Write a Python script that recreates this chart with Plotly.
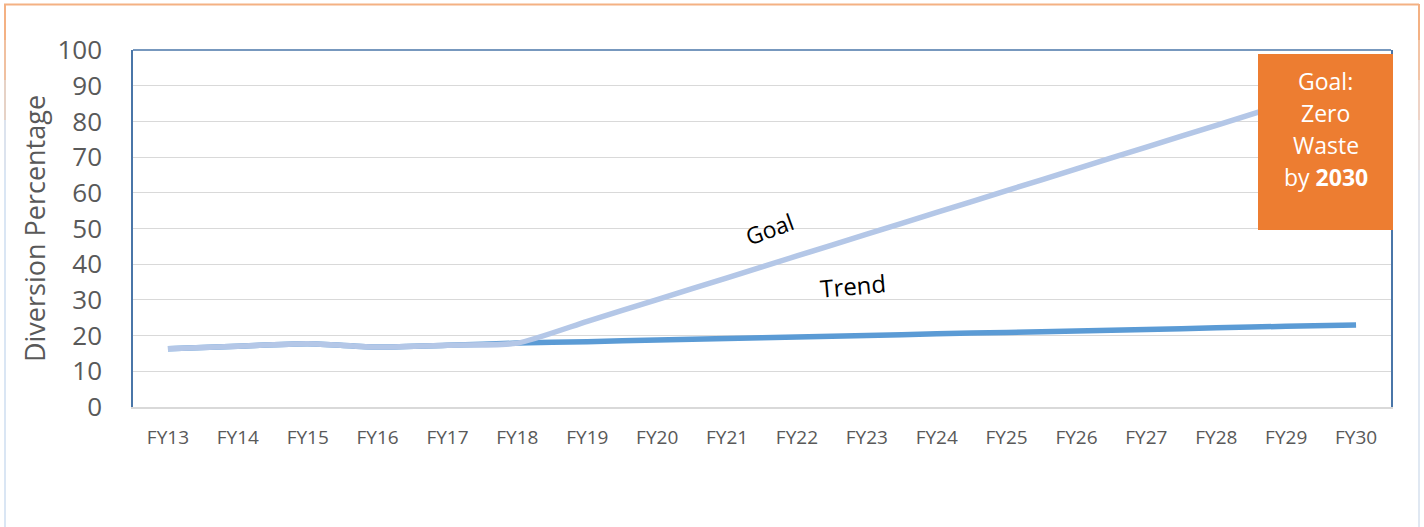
import plotly.graph_objects as go

categories = ["FY13", "FY14", "FY15", "FY16", "FY17", "FY18", "FY19", "FY20", "FY21",
              "FY22", "FY23", "FY24", "FY25", "FY26", "FY27", "FY28", "FY29", "FY30"]
trend = [16.3, 17.0, 17.7, 16.8, 17.3, 17.9, 18.3, 18.8, 19.2, 19.6, 20.0, 20.5,
         20.9, 21.3, 21.7, 22.2, 22.6, 23.0]
goal = [16.3, 17.0, 17.7, 16.8, 17.3, 17.9, 24.0, 30.1, 36.2, 42.3, 48.4, 54.5,
        60.6, 66.7, 72.8, 78.9, 85.0, 91.1]
y_ticks = [0, 10, 20, 30, 40, 50, 60, 70, 80, 90, 100]
box_lines = ["Goal:", "Zero", "Waste", "by <b>2030</b>"]

FONT = "Open Sans, Calibri, sans-serif"
W, H = 1424, 527
L, R, T, B = 133, 33, 50, 120
PW, PH = W - L - R, H - T - B


def px(x):
    return (x - L) / PW


def py(y):
    return (H - B - y) / PH


fig = go.Figure()
fig.add_trace(go.Scatter(x=categories, y=trend, mode="lines", name="Trend",
                         line=dict(color="#5B9BD5", width=5.5, shape="spline", smoothing=0.6)))
fig.add_trace(go.Scatter(x=categories, y=goal, mode="lines", name="Goal",
                         line=dict(color="#B4C7E7", width=5.5, shape="spline", smoothing=0.6)))

shapes = []
# plot area top border
shapes.append(dict(type="line", xref="paper", yref="paper", x0=0, x1=1, y0=1, y1=1,
                   line=dict(color="#4A76A8", width=1.5)))
# orange goal box
shapes.append(dict(type="rect", xref="paper", yref="paper", x0=px(1258), x1=px(1393),
                   y0=py(230), y1=py(54), fillcolor="#ED7D31", line=dict(width=0), layer="above"))
# outer frame (gradient approximated by segments)
shapes.append(dict(type="line", xref="paper", yref="paper", x0=px(4), x1=px(1419),
                   y0=py(4.5), y1=py(4.5), line=dict(color="#F4B183", width=2)))
left_cols = ["#F4B183", "#F0C0A0", "#E6D2C6", "#DCE3EE", "#DAE6F4", "#DAE6F4"]
segs = [4, 40, 80, 120, 170, 300, 527]
for i, c in enumerate(left_cols):
    shapes.append(dict(type="line", xref="paper", yref="paper", x0=px(5), x1=px(5),
                       y0=py(segs[i]), y1=py(segs[i + 1]), line=dict(color=c, width=2)))
right_cols = ["#F4B183", "#F2C4A6", "#EED3C6", "#E8E2E2", "#E2E6EE", "#E0E8F2"]
for i, c in enumerate(right_cols):
    shapes.append(dict(type="line", xref="paper", yref="paper", x0=px(1419), x1=px(1419),
                       y0=py(segs[i]), y1=py(segs[i + 1]), line=dict(color=c, width=2)))

annotations = [
    dict(xref="paper", yref="paper", x=px(769), y=py(229), text="Goal", showarrow=False,
         textangle=-20, font=dict(family=FONT, size=23, color="#000000")),
    dict(xref="paper", yref="paper", x=px(853), y=py(285), text="Trend", showarrow=False,
         textangle=-5, font=dict(family=FONT, size=24, color="#000000")),
]
for i, t in enumerate(box_lines):
    annotations.append(dict(xref="paper", yref="paper", x=px(1325.5), y=py(81 + 32 * i),
                            xanchor="center", yanchor="middle", text=t, showarrow=False,
                            font=dict(family=FONT, size=23, color="#FFFFFF")))

fig.update_layout(
    width=W, height=H,
    margin=dict(l=L, r=R, t=T, b=B),
    paper_bgcolor="#FFFFFF", plot_bgcolor="#FFFFFF",
    showlegend=False,
    font=dict(family=FONT, color="#595959"),
    shapes=shapes,
    annotations=annotations,
    xaxis=dict(type="category", range=[-0.5, 17.5], showgrid=False, showline=True,
               linecolor="#D9D9D9", linewidth=1.5, ticks="",
               tickfont=dict(family=FONT, size=19, color="#595959"),
               ticklabelstandoff=12),
    yaxis=dict(range=[0, 100], tickvals=y_ticks, showgrid=True, gridcolor="#D9D9D9",
               gridwidth=1.3, zeroline=False, showline=True, linecolor="#4A76A8",
               linewidth=1.5, mirror=True, ticks="",
               tickfont=dict(family=FONT, size=26, color="#595959"),
               ticklabelstandoff=24,
               title=dict(text="Diversion Percentage", standoff=4,
                          font=dict(family=FONT, size=27, color="#595959"))),
)

fig.write_html("out.html", config={"displayModeBar": False},
               post_script="document.body.style.margin='0';document.body.style.padding='0';")
